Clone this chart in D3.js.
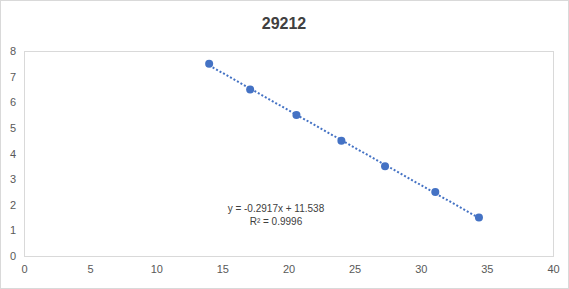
<!DOCTYPE html>
<html>
<head>
<meta charset="utf-8">
<script src="https://cdn.jsdelivr.net/npm/d3@7"></script>
<style>
  body { margin: 0; background: #fff; }
  svg { display: block; font-family: "Liberation Sans", Arial, sans-serif; }
  .axis text { fill: #595959; font-size: 11px; }
  .axis path, .axis line { display: none; }
</style>
</head>
<body>
<div id="chart"></div>
<script>
var title = "29212";
var x_vals = [14.0, 17.1, 20.6, 24.0, 27.3, 31.1, 34.4];
var y_vals = [7.5, 6.5, 5.5, 4.5, 3.5, 2.5, 1.5];
var x_ticks = [0, 5, 10, 15, 20, 25, 30, 35, 40];
var y_ticks = [0, 1, 2, 3, 4, 5, 6, 7, 8];
var eq_lines = ["y = -0.2917x + 11.538", "R² = 0.9996"];

var W = 569, H = 289,
    margins = {top: 51, right: 16, bottom: 33, left: 24},
    width = W - margins.left - margins.right,
    height = H - margins.top - margins.bottom,
    color = "#4472c4";

var data = x_vals.map(function(x, i) { return {x: x, y: y_vals[i]}; });

var svg = d3.select("#chart").append("svg")
    .attr("width", W)
    .attr("height", H);

svg.append("rect")
    .attr("x", 0.5).attr("y", 0.5)
    .attr("width", W - 1).attr("height", H - 1)
    .attr("fill", "#fff")
    .attr("stroke", "#d9d9d9");

svg.append("text")
    .attr("x", 284)
    .attr("y", 29)
    .attr("text-anchor", "middle")
    .style("font-size", "16px")
    .style("font-weight", "bold")
    .style("fill", "#404040")
    .text(title);

var xScale = d3.scaleLinear().domain([0, 40]).range([0, width]);
var yScale = d3.scaleLinear().domain([0, 8]).range([height, 0]);

var g = svg.append("g")
    .attr("transform", "translate(" + margins.left + "," + margins.top + ")");

g.append("rect")
    .attr("x", 0.5).attr("y", 0.5)
    .attr("width", width).attr("height", height)
    .attr("fill", "none")
    .attr("stroke", "#d9d9d9");

g.append("g")
    .attr("class", "axis")
    .attr("transform", "translate(0," + height + ")")
    .call(d3.axisBottom(xScale).tickValues(x_ticks).tickSize(0).tickPadding(9));

g.append("g")
    .attr("class", "axis")
    .call(d3.axisLeft(yScale).tickValues(y_ticks).tickSize(0).tickPadding(8));

// least squares trendline over the data range
var mx = d3.mean(data, function(d) { return d.x; }),
    my = d3.mean(data, function(d) { return d.y; }),
    sxy = d3.sum(data, function(d) { return (d.x - mx) * (d.y - my); }),
    sxx = d3.sum(data, function(d) { return (d.x - mx) * (d.x - mx); }),
    slope = sxy / sxx,
    icpt = my - slope * mx;
var ext = d3.extent(data, function(d) { return d.x; });

g.append("line")
    .attr("x1", xScale(ext[0])).attr("y1", yScale(slope * ext[0] + icpt))
    .attr("x2", xScale(ext[1])).attr("y2", yScale(slope * ext[1] + icpt))
    .attr("stroke", color)
    .attr("stroke-width", 2)
    .attr("stroke-dasharray", "2,2");

g.selectAll("circle")
    .data(data)
    .enter().append("circle")
    .attr("cx", function(d) { return xScale(d.x); })
    .attr("cy", function(d) { return yScale(d.y); })
    .attr("r", 4)
    .attr("fill", color);

var eq = g.append("text")
    .attr("x", xScale(19.05))
    .attr("y", yScale(1.72))
    .attr("text-anchor", "middle")
    .style("font-size", "10px")
    .style("fill", "#404040");
eq.selectAll("tspan")
    .data(eq_lines)
    .enter().append("tspan")
    .attr("x", xScale(19.05))
    .attr("dy", function(d, i) { return i ? 13.5 : 0; })
    .text(function(d) { return d; });
</script>
</body>
</html>
